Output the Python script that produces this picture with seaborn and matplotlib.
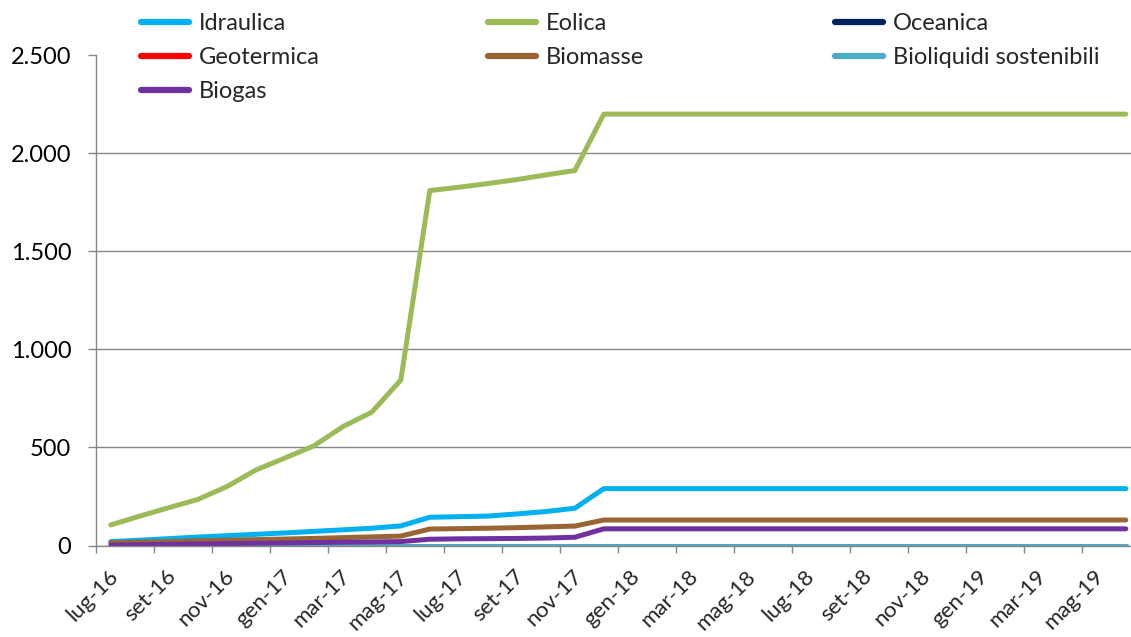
import matplotlib
matplotlib.use("Agg")
import matplotlib.pyplot as plt
import matplotlib.transforms as mtransforms
import pandas as pd
import seaborn as sns
from matplotlib.lines import Line2D

# Months, July 2016 - June 2019
mesi = [
    "lug-16", "ago-16", "set-16", "ott-16", "nov-16", "dic-16",
    "gen-17", "feb-17", "mar-17", "apr-17", "mag-17", "giu-17",
    "lug-17", "ago-17", "set-17", "ott-17", "nov-17", "dic-17",
    "gen-18", "feb-18", "mar-18", "apr-18", "mag-18", "giu-18",
    "lug-18", "ago-18", "set-18", "ott-18", "nov-18", "dic-18",
    "gen-19", "feb-19", "mar-19", "apr-19", "mag-19", "giu-19",
]

idraulica = [20, 27, 35, 43, 50, 57, 64, 72, 80, 88, 100, 144,
             147, 150, 161, 173, 190, 290, 290, 290, 290, 290, 290, 290,
             290, 290, 290, 290, 290, 290, 290, 290, 290, 290, 290, 290]
eolica = [105, 150, 193, 235, 300, 385, 446, 508, 606, 680, 844, 1810,
          1827, 1846, 1866, 1890, 1912, 2200, 2200, 2200, 2200, 2200, 2200, 2200,
          2200, 2200, 2200, 2200, 2200, 2200, 2200, 2200, 2200, 2200, 2200, 2200]
oceanica = [0, 0, 0, 0, 0, 0, 0, 0, 0, 0, 0, 0,
            0, 0, 0, 0, 0, 0, 0, 0, 0, 0, 0, 0,
            0, 0, 0, 0, 0, 0, 0, 0, 0, 0, 0, 0]
geotermica = [0, 0, 0, 0, 0, 0, 0, 0, 0, 0, 0, 0,
              0, 0, 0, 0, 0, 0, 0, 0, 0, 0, 0, 0,
              0, 0, 0, 0, 0, 0, 0, 0, 0, 0, 0, 0]
biomasse = [14, 17, 20, 24, 27, 30, 33, 36, 40, 44, 48, 84,
            86, 88, 91, 95, 99, 130, 130, 130, 130, 130, 130, 130,
            130, 130, 130, 130, 130, 130, 130, 130, 130, 130, 130, 130]
bioliquidi = [0, 0, 0, 0, 0, 0, 0, 0, 0, 0, 0, 0,
              0, 0, 0, 0, 0, 0, 0, 0, 0, 0, 0, 0,
              0, 0, 0, 0, 0, 0, 0, 0, 0, 0, 0, 0]
biogas = [2, 4, 6, 8, 10, 11, 13, 15, 17, 18, 20, 32,
          34, 35, 36, 38, 42, 85, 85, 85, 85, 85, 85, 85,
          85, 85, 85, 85, 85, 85, 85, 85, 85, 85, 85, 85]

fonti = ["Idraulica", "Eolica", "Oceanica", "Geotermica",
         "Biomasse", "Bioliquidi sostenibili", "Biogas"]
serie = [idraulica, eolica, oceanica, geotermica, biomasse, bioliquidi, biogas]
colori = ["#00B0F0", "#9BBB59", "#002060", "#FF0000",
          "#996633", "#4BACC6", "#7030A0"]

y_ticks = [0, 500, 1000, 1500, 2000, 2500]
y_labels = ["0", "500", "1.000", "1.500", "2.000", "2.500"]

rows = []
for nome, valori in zip(fonti, serie):
    for i, v in enumerate(valori):
        rows.append({"idx": i, "mese": mesi[i], "fonte": nome, "valore": v})
df = pd.DataFrame(rows)

sns.set_style("white")
plt.rcParams["font.family"] = ["Lato", "DejaVu Sans"]

GRAY = "#868686"
W, H = 1131, 637
fig = plt.figure(figsize=(W / 100, H / 100), dpi=100)
left_px, right_px = 96.3, 96.3 + 36 * 29.0
top_px, bottom_px = 55.3, 545.5
ax = fig.add_axes([left_px / W, 1 - bottom_px / H,
                   (right_px - left_px) / W, (bottom_px - top_px) / H])

sns.lineplot(data=df, x="idx", y="valore", hue="fonte", hue_order=fonti,
             palette=colori, linewidth=3.6, legend=False, sort=False,
             estimator=None, ax=ax)
for ln in ax.get_lines():
    ln.set_solid_capstyle("round")
    ln.set_solid_joinstyle("round")

ax.set_xlim(-0.5, 35.5)
ax.set_ylim(0, 2500)
ax.set_xlabel("")
ax.set_ylabel("")

# y axis: grid and ticks
ax.set_yticks(y_ticks)
ax.set_yticklabels(y_labels, fontsize=17)
ax.grid(axis="y", color=GRAY, linewidth=1.0)
ax.set_axisbelow(True)
ax.tick_params(axis="y", which="major", left=True, length=6, width=1,
               color=GRAY, pad=12, labelcolor="black")
ax.yaxis.get_gridlines()[-1].set_visible(False)

# x axis: labels every two months, tick marks between categories
ax.set_xticks(list(range(0, 36, 2)))
ax.set_xticklabels(mesi[::2], fontsize=16, rotation=45, ha="right",
                   va="center", rotation_mode="anchor")
ax.set_xticks([i - 0.5 for i in range(0, 37, 2)], minor=True)
ax.tick_params(axis="x", which="major", bottom=True, length=0, pad=20)
ax.tick_params(axis="x", which="minor", bottom=True, length=5, width=1,
               color=GRAY)
shift = mtransforms.ScaledTranslation(4 / 100, 0, fig.dpi_scale_trans)
for lab in ax.get_xticklabels():
    lab.set_transform(lab.get_transform() + shift)

for s in ["top", "right"]:
    ax.spines[s].set_visible(False)
for s in ["left", "bottom"]:
    ax.spines[s].set_color(GRAY)
    ax.spines[s].set_linewidth(1.0)

# Legend: three columns, filled row by row
def handle(c):
    return Line2D([0], [0], color=c, linewidth=4.5, solid_capstyle="round")

colonne = [[0, 3, 6], [1, 4], [2, 5]]
x_cols = [141, 488, 835]
for k, (col, x0) in enumerate(zip(colonne, x_cols)):
    leg = ax.legend([handle(colori[j]) for j in col], [fonti[j] for j in col],
                    loc="upper left",
                    bbox_to_anchor=(x0 / W, 1 - 13 / H),
                    bbox_transform=fig.transFigure,
                    frameon=False, fontsize=17, handlelength=2.05,
                    handletextpad=0.42, labelspacing=0.55,
                    borderpad=0, borderaxespad=0)
    if k < len(colonne) - 1:
        ax.add_artist(leg)

fig.savefig("out.png", dpi=100, facecolor="white")
